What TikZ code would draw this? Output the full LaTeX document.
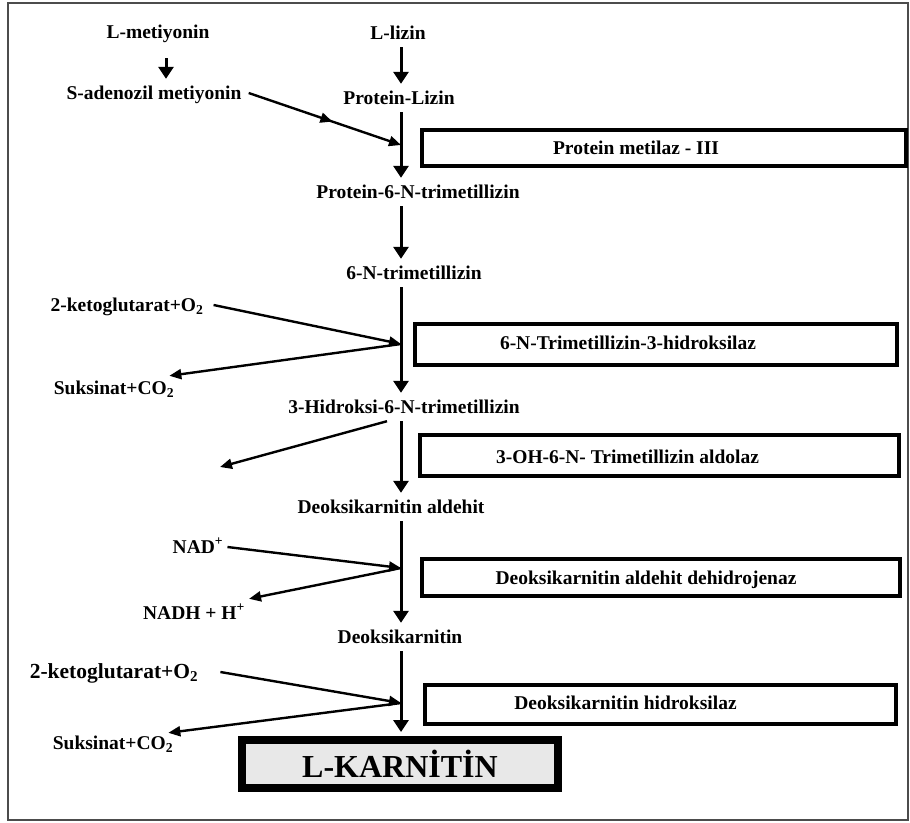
\documentclass[tikz,border=0pt]{standalone}
\usepackage{fontspec}
\setmainfont{Liberation Serif}
\usetikzlibrary{arrows.meta,decorations.markings}

\tikzset{
  chem/.style={font=\bfseries\fontsize{19.5}{23}\selectfont, text height=13pt, text depth=0pt, inner xsep=4pt, inner ysep=7.5pt},
  bigchem/.style={chem, font=\bfseries\fontsize{21.5}{25}\selectfont},
  flow/.style={line width=3pt, -{Triangle[length=12pt,width=15pt]}},
  side/.style={line width=2.4pt, -{Triangle[length=12pt,width=10pt]}},
  midtip/.style={postaction={decorate}, decoration={markings, mark=at position 0.55 with {\arrow{Triangle[length=12pt,width=10pt]}}}},
  enzbox/.style={draw, line width=3.8pt, fill=white, inner sep=0pt},
  enzlabel/.style={font=\bfseries\fontsize{19.5}{23}\selectfont},
  finalbox/.style={draw, line width=8pt, fill=gray!18, inner sep=0pt, minimum width=316pt, minimum height=48pt, font=\bfseries\fontsize{32}{36}\selectfont},
}

\begin{document}
\begin{tikzpicture}[x=1pt, y=-1pt]
    \useasboundingbox (0,0) rectangle (910,822);
    % Draw outer frame
    \draw[gray!60!black, line width=1.3pt] (8,3) rectangle (908,820);

    % Main chain
    \coordinate (axis) at (401,0);
    \node[chem] (lmet) at (158,32) {L-metiyonin};
    \node[chem] (lliz) at (398,33) {L-lizin};
    \node[chem] (sam) at (154,93) {S-adenozil metiyonin};
    \node[chem] (plys) at (399,98) {Protein-Lizin};
    \node[chem] (ptml) at (418,192) {Protein-6-N-trimetillizin};
    \node[chem] (tml) at (414,273) {6-N-trimetillizin};
    \node[chem] (html) at (404,407) {3-Hidroksi-6-N-trimetillizin};
    \node[chem] (dca) at (391,507) {Deoksikarnitin aldehit};
    \node[chem] (dc) at (400,637) {Deoksikarnitin};
    \node[finalbox] (lkar) at (400,764) {L-KARNİTİN};

    % Cofactors
    \node[chem] (akg1) at (127,305) {2-ketoglutarat+O\textsubscript{2}};
    \node[chem] (suc1) at (114,388) {Suksinat+CO\textsubscript{2}};
    \node[chem] (nad) at (198,547) {NAD\textsuperscript{+}};
    \node[chem] (nadh) at (194,613) {NADH + H\textsuperscript{+}};
    \node[bigchem] (akg2) at (114,672) {2-ketoglutarat+O\textsubscript{2}};
    \node[chem] (suc2) at (113,743) {Suksinat+CO\textsubscript{2}};

    % Enzymes
    \node[enzbox, minimum width=484.5pt, minimum height=36.5pt,
      label={[enzlabel, xshift=-28pt]center:Protein metilaz - III}] (e1) at (664,148) {};
    \node[enzbox, minimum width=482.5pt, minimum height=41.5pt,
      label={[enzlabel, xshift=-28pt, yshift=2pt]center:6-N-Trimetillizin-3-hidroksilaz}] (e2) at (656,344.5) {};
    \node[enzbox, minimum width=479.5pt, minimum height=41.5pt,
      label={[enzlabel, xshift=-32pt, yshift=-1pt]center:3-OH-6-N- Trimetillizin aldolaz}] (e3) at (659.5,455.5) {};
    \node[enzbox, minimum width=478.5pt, minimum height=37.5pt,
      label={[enzlabel, xshift=-15pt, yshift=-2pt]center:Deoksikarnitin aldehit dehidrojenaz}] (e4) at (661,577.5) {};
    \node[enzbox, minimum width=471.5pt, minimum height=39.5pt,
      label={[enzlabel, xshift=-35pt, yshift=2pt]center:Deoksikarnitin hidroksilaz}] (e5) at (660.5,704.5) {};

    % Junctions on the main line
    \coordinate (j1) at (401,145);
    \coordinate (j2) at (401,344);
    \coordinate (j4) at (401,568);
    \coordinate (j5) at (401,703);
    \coordinate (hnull) at (220,467);

    % Side arrows
    \draw[side, midtip] ([xshift=3pt]sam.east) -- (j1);
    \draw[side] ([xshift=6pt]akg1.east) -- (j2);
    \draw[side] (j2) -- ([xshift=-9pt, yshift=-2pt]suc1.north east);
    \draw[side] ([xshift=-17pt]html.south) -- (hnull);
    \draw[side] (nad.east) -- (j4);
    \draw[side] (j4) -- (nadh.north east);
    \draw[side] ([xshift=18pt]akg2.east) -- (j5);
    \draw[side] (j5) -- ([xshift=-9pt, yshift=-4pt]suc2.north east);

    % Main arrows
    \draw[flow, shorten <=12pt] ([xshift=8pt]lmet.south) -- ([xshift=12pt]sam.north);
    \foreach \a/\b in {lliz/plys, plys/ptml, ptml/tml, tml/html, html/dca, dca/dc}
      \draw[flow] (\a.south -| axis) -- (\b.north -| axis);
    \draw[flow, shorten >=4pt] (dc.south -| axis) -- (lkar.north -| axis);
\end{tikzpicture}
\end{document}
